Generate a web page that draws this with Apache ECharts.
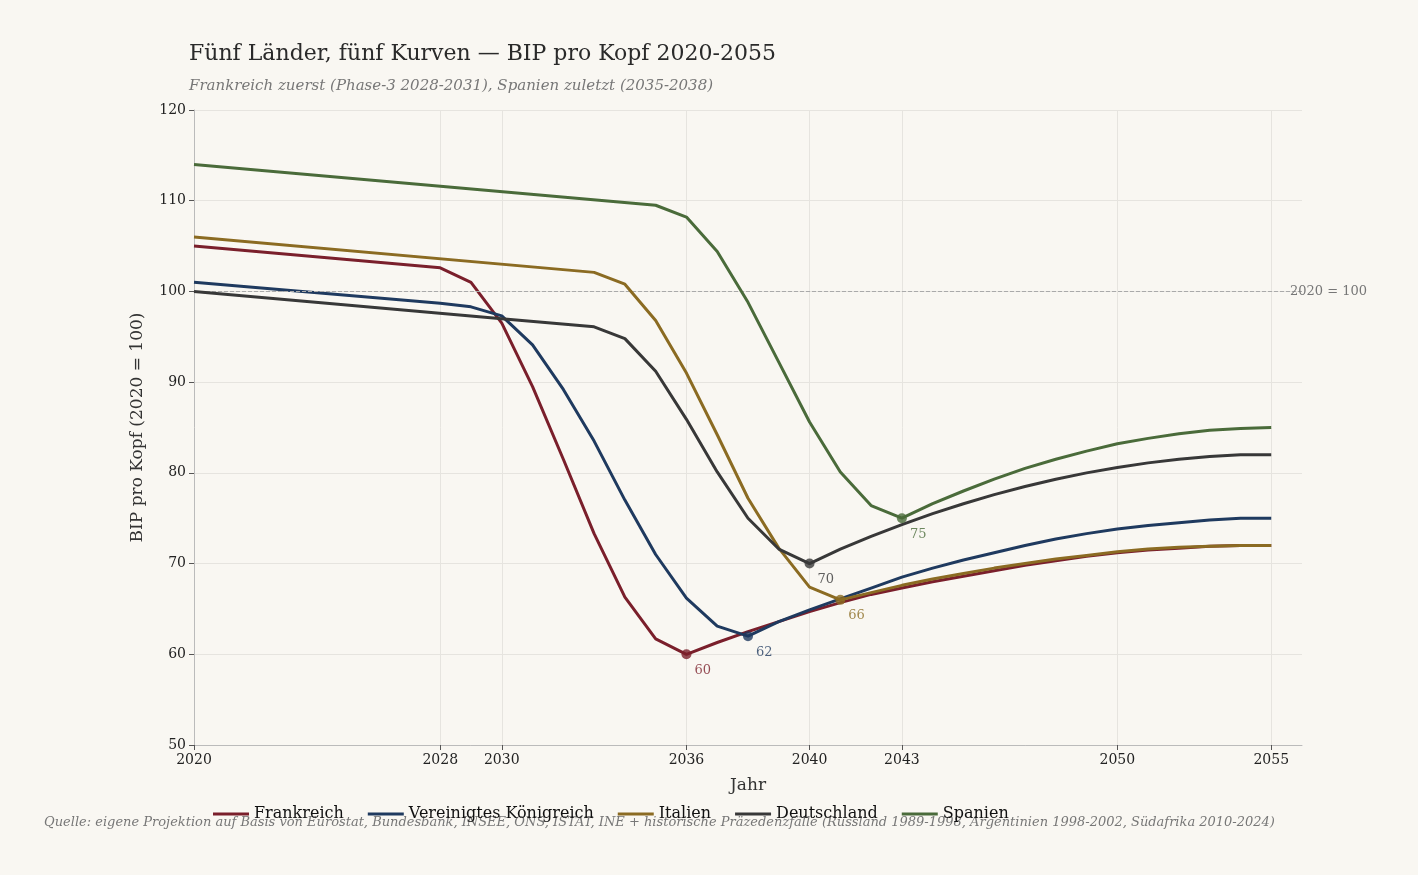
<!DOCTYPE html>
<html><head><meta charset="utf-8">
<script src="https://cdn.jsdelivr.net/npm/echarts@6/dist/echarts.min.js"></script>
<style>html,body{margin:0;background:#f9f7f2}#c{width:1418px;height:875px}</style>
</head><body><div id="c"></div>
<script>
const names = ['Frankreich','Vereinigtes Königreich','Italien','Deutschland','Spanien'];
const colors = ['#7a1f2b','#1f3a5f','#8b6b22','#383838','#4a6b3a'];
const xTicks = [2020,2028,2030,2036,2040,2043,2050,2055];
const frankreich = [[2020,105],[2028,102.6],[2029,101],[2030,96.5],[2031,89.5],[2032,81.5],[2033,73.3],[2034,66.3],[2035,61.7],[2036,60],[2037,61.3],[2038,62.5],[2039,63.6],[2040,64.7],[2041,65.7],[2042,66.6],[2043,67.3],[2044,68],[2045,68.6],[2046,69.2],[2047,69.8],[2048,70.3],[2049,70.8],[2050,71.2],[2051,71.5],[2052,71.7],[2053,71.9],[2054,72],[2055,72]];
const uk = [[2020,101],[2028,98.7],[2029,98.3],[2030,97.3],[2031,94.1],[2032,89.2],[2033,83.5],[2034,77],[2035,71],[2036,66.2],[2037,63.1],[2038,62],[2039,63.6],[2040,64.9],[2041,66.1],[2042,67.3],[2043,68.5],[2044,69.5],[2045,70.4],[2046,71.2],[2047,72],[2048,72.7],[2049,73.3],[2050,73.8],[2051,74.2],[2052,74.5],[2053,74.8],[2054,75],[2055,75]];
const italien = [[2020,106],[2033,102.1],[2034,100.8],[2035,96.8],[2036,91],[2037,84.2],[2038,77.2],[2039,71.7],[2040,67.4],[2041,66],[2042,66.8],[2043,67.6],[2044,68.3],[2045,68.9],[2046,69.5],[2047,70],[2048,70.5],[2049,70.9],[2050,71.3],[2051,71.6],[2052,71.8],[2053,71.9],[2054,72],[2055,72]];
const deutschland = [[2020,100],[2030,97],[2033,96.1],[2034,94.8],[2035,91.2],[2036,85.9],[2037,80.1],[2038,75],[2039,71.6],[2040,70],[2041,71.6],[2042,73],[2043,74.3],[2044,75.5],[2045,76.6],[2046,77.6],[2047,78.5],[2048,79.3],[2049,80],[2050,80.6],[2051,81.1],[2052,81.5],[2053,81.8],[2054,82],[2055,82]];
const spanien = [[2020,114],[2035,109.5],[2036,108.2],[2037,104.4],[2038,98.8],[2039,92.2],[2040,85.6],[2041,80.1],[2042,76.4],[2043,75],[2044,76.6],[2045,78],[2046,79.3],[2047,80.5],[2048,81.5],[2049,82.4],[2050,83.2],[2051,83.8],[2052,84.3],[2053,84.7],[2054,84.9],[2055,85]];
const allData = [frankreich, uk, italien, deutschland, spanien];
const F = 'DejaVu Serif';
const series = allData.map((d,i)=>({
  name:names[i], type:'line', data:d, showSymbol:false, symbol:'none',
  lineStyle:{width:3,color:colors[i]}, itemStyle:{color:colors[i]}, z:3+i,
  markLine: i===0 ? {silent:true, symbol:'none', lineStyle:{type:'dashed',color:'#aaaaaa',width:1},
    label:{position:'end',formatter:'2020 = 100',color:'#777',fontFamily:F,fontSize:13,distance:-12},
    data:[{yAxis:100}]} : undefined
}));
allData.forEach((d,i)=>{
  let m = d.reduce((a,b)=>b[1]<a[1]?b:a);
  series.push({type:'scatter', data:[m], symbolSize:10, itemStyle:{color:colors[i]}, z:10,
    label:{show:true, formatter:p=>p.value[1], position:'right', offset:[-2,16], color:colors[i], fontFamily:F, fontSize:13}});
});
const chart = echarts.init(document.getElementById('c'));
chart.setOption({
  backgroundColor:'#f9f7f2', animation:false, color:colors,
  title:{text:'Fünf Länder, fünf Kurven — BIP pro Kopf 2020-2055', subtext:'Frankreich zuerst (Phase-3 2028-2031), Spanien zuletzt (2035-2038)',
    left:184, top:38, itemGap:14,
    textStyle:{fontFamily:F,fontSize:22,fontWeight:'normal',color:'#2a2a2a'},
    subtextStyle:{fontFamily:F,fontSize:15,fontStyle:'italic',color:'#777'}},
  graphic:[{type:'text', left:44, top:816, style:{text:'Quelle: eigene Projektion auf Basis von Eurostat, Bundesbank, INSEE, ONS, ISTAT, INE + historische Präzedenzfälle (Russland 1989-1998, Argentinien 1998-2002, Südafrika 2010-2024)', font:'italic 13px "DejaVu Serif"', fill:'#777'}}],
  legend:{data:names, left:208, top:801, itemWidth:36, itemHeight:3, itemGap:24, icon:'rect',
    textStyle:{fontFamily:F,fontSize:16,color:'#111'}},
  grid:{left:194, right:116, top:110, bottom:130},
  xAxis:{type:'value', min:2020, max:2056, name:'Jahr', nameLocation:'middle', nameGap:32,
    nameTextStyle:{fontFamily:F,fontSize:17,color:'#333'},
    axisLine:{lineStyle:{color:'#bbb'}}, axisTick:{customValues:xTicks,lineStyle:{color:'#555'}},
    axisLabel:{customValues:xTicks, fontFamily:F, fontSize:14, color:'#222', formatter:v=>String(v)},
    splitLine:{show:true, lineStyle:{color:'#e6e4df'}}},
  yAxis:{type:'value', min:50, max:120, interval:10, name:'BIP pro Kopf (2020 = 100)', nameLocation:'middle', nameGap:48,
    nameTextStyle:{fontFamily:F,fontSize:17,color:'#333'},
    axisLine:{show:true,lineStyle:{color:'#bbb'}}, axisTick:{show:true,lineStyle:{color:'#555'}},
    axisLabel:{fontFamily:F,fontSize:14,color:'#222'},
    splitLine:{lineStyle:{color:'#e6e4df'}}},
  series
});
</script></body></html>
